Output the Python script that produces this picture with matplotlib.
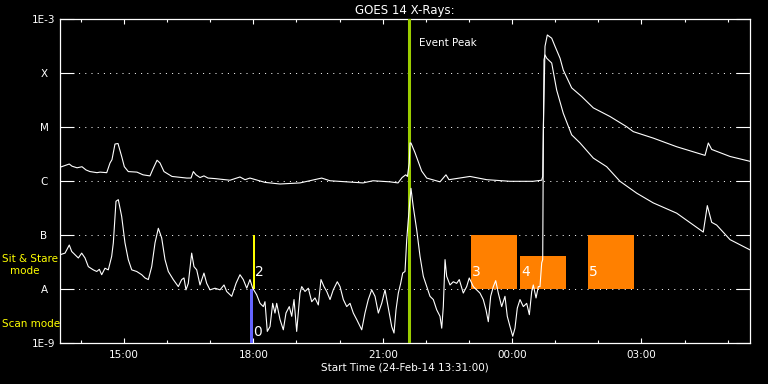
import matplotlib
matplotlib.use('Agg')
import matplotlib.pyplot as plt
import matplotlib.dates as mdates
from matplotlib.ticker import NullLocator, FixedLocator
from datetime import datetime, timedelta
import numpy as np

START = datetime(2014, 2, 24, 13, 31)
END = datetime(2014, 2, 25, 5, 31)

# GOES 14 long channel (1-8 A): minutes after start, log10 flux (W/m^2)
long_min = [
    0.0, 12.9, 16.7, 23.7, 30.6, 36.2, 41.7, 51.5, 55.7, 65.0,
    69.6, 72.3, 76.5, 80.7, 85.8, 89.5, 95.0, 107.1, 115.5, 125.2,
    129.4, 135.0, 139.1, 144.7, 155.8, 176.3, 182.3, 185.5, 189.2, 194.8,
    200.3, 205.9, 215.7, 236.5, 250.4, 257.4, 264.3, 285.2, 306.1, 333.9,
    364.1, 375.7, 398.9, 421.6, 435.5, 459.1, 470.3, 476.0, 481.0, 483.4,
    485.9, 487.0, 488.3, 493.9, 503.2, 510.2, 528.7, 537.0, 541.2, 570.4,
    593.7, 626.1, 658.1, 670.2, 671.6, 672.4, 673.4, 674.8, 678.0, 684.1,
    688.7, 695.7, 700.2, 711.9, 725.8, 742.0, 765.2, 788.5, 797.6, 825.4,
    858.0, 895.0, 897.4, 902.0, 906.7, 932.2, 960.0]
long_log = [
    -5.74, -5.68, -5.72, -5.75, -5.73, -5.79, -5.82, -5.84, -5.83, -5.84,
    -5.66, -5.60, -5.31, -5.30, -5.54, -5.73, -5.82, -5.83, -5.88, -5.90,
    -5.77, -5.61, -5.66, -5.82, -5.91, -5.94, -5.94, -5.82, -5.88, -5.93,
    -5.90, -5.94, -5.95, -5.98, -5.92, -5.97, -5.94, -6.02, -6.05, -6.03,
    -5.94, -5.99, -6.01, -6.03, -5.99, -6.01, -6.03, -5.93, -5.88, -5.91,
    -5.66, -5.29, -5.29, -5.47, -5.81, -5.94, -6.01, -5.88, -5.97, -5.91,
    -5.97, -6.00, -6.00, -5.98, -5.91, -5.05, -4.43, -3.50, -3.29, -3.35,
    -3.50, -3.72, -3.94, -4.27, -4.43, -4.64, -4.80, -4.99, -5.08, -5.20,
    -5.36, -5.51, -5.52, -5.29, -5.41, -5.54, -5.63]

# GOES 14 short channel (0.5-4 A): minutes after start, log10 flux (W/m^2)
short_min = [
    0.0, 7.0, 12.9, 16.3, 20.9, 25.5, 30.2, 34.8, 39.4, 46.3,
    51.1, 54.7, 58.0, 62.6, 67.2, 71.9, 74.2, 77.9, 81.1, 85.8,
    90.4, 95.0, 99.8, 106.7, 113.7, 118.3, 122.9, 127.6, 132.2, 136.8,
    141.5, 146.1, 150.7, 157.6, 164.6, 169.3, 172.5, 175.3, 178.5, 183.2,
    186.4, 190.2, 194.8, 200.3, 204.1, 208.7, 215.7, 222.6, 228.2, 231.9,
    238.9, 244.9, 250.4, 255.0, 259.8, 264.3, 268.1, 273.6, 278.3, 282.9,
    285.2, 288.4, 292.2, 295.9, 299.1, 301.5, 306.1, 310.7, 314.4, 319.0,
    322.4, 325.6, 329.3, 333.9, 336.3, 340.9, 345.5, 350.2, 354.8, 359.4,
    363.1, 367.3, 371.1, 375.7, 380.2, 385.8, 389.6, 394.2, 398.9, 403.5,
    408.1, 412.8, 419.8, 424.3, 428.9, 433.7, 438.3, 442.9, 447.6, 452.2,
    456.8, 461.5, 464.7, 467.5, 470.7, 474.0, 476.8, 480.0, 482.4, 484.6,
    488.3, 491.5, 496.3, 500.9, 505.5, 510.2, 514.8, 519.4, 524.1, 528.7,
    531.1, 533.3, 535.7, 538.0, 542.6, 547.2, 551.9, 555.5, 561.1, 565.8,
    569.4, 575.0, 579.7, 584.3, 588.9, 592.7, 595.9, 599.2, 602.9, 606.2,
    609.8, 614.5, 619.1, 622.3, 626.1, 629.9, 633.0, 636.2, 640.0, 644.6,
    649.3, 653.0, 656.3, 658.5, 662.3, 665.5, 667.8, 670.2, 671.6, 672.4,
    673.4, 674.8, 677.1, 684.1, 691.0, 700.2, 711.9, 723.5, 742.0, 760.6,
    779.1, 802.4, 825.4, 858.0, 895.0, 900.6, 906.7, 913.6, 932.2, 960.0]
short_log = [
    -7.36, -7.33, -7.18, -7.30, -7.36, -7.42, -7.33, -7.42, -7.58, -7.64,
    -7.67, -7.63, -7.73, -7.61, -7.64, -7.39, -7.14, -6.37, -6.34, -6.65,
    -7.14, -7.45, -7.64, -7.67, -7.73, -7.79, -7.82, -7.58, -7.14, -6.87,
    -7.05, -7.45, -7.67, -7.82, -7.95, -7.82, -7.79, -8.01, -7.89, -7.33,
    -7.58, -7.64, -7.92, -7.70, -7.89, -8.01, -7.98, -8.01, -7.92, -8.04,
    -8.13, -7.89, -7.73, -7.82, -7.98, -7.82, -7.98, -8.10, -8.26, -8.32,
    -8.23, -8.78, -8.69, -8.26, -8.44, -8.26, -8.56, -8.75, -8.44, -8.32,
    -8.50, -8.19, -8.78, -8.07, -7.95, -8.04, -7.98, -8.23, -8.16, -8.29,
    -7.82, -7.95, -8.04, -8.19, -8.01, -7.86, -7.95, -8.19, -8.32, -8.26,
    -8.44, -8.56, -8.75, -8.44, -8.19, -8.01, -8.13, -8.44, -8.26, -8.01,
    -8.35, -8.69, -8.81, -8.38, -8.07, -7.89, -7.70, -7.67, -7.08, -6.71,
    -6.13, -6.47, -6.90, -7.39, -7.76, -7.95, -8.13, -8.19, -8.38, -8.50,
    -8.72, -8.32, -7.45, -7.76, -7.92, -7.86, -7.89, -7.82, -8.07, -7.95,
    -7.79, -7.95, -8.01, -8.07, -8.19, -8.38, -8.60, -8.13, -7.95, -7.84,
    -8.07, -8.32, -8.13, -8.50, -8.69, -8.87, -8.72, -8.35, -8.19, -8.32,
    -8.26, -8.47, -8.04, -7.92, -8.16, -7.95, -7.95, -7.51, -7.45, -5.42,
    -3.75, -3.66, -3.72, -3.81, -4.31, -4.74, -5.14, -5.29, -5.57, -5.73,
    -6.00, -6.22, -6.40, -6.59, -6.94, -6.45, -6.76, -6.81, -7.08, -7.27]

# Y axis: decades and GOES class labels
y_decades = [1e-9, 1e-8, 1e-7, 1e-6, 1e-5, 1e-4, 1e-3]
y_labels = ['1E-9', 'A', 'B', 'C', 'M', 'X', '1E-3']
grid_levels = [1e-8, 1e-7, 1e-6, 1e-5, 1e-4]

# Observation windows (orange boxes)
obs_labels = ['3', '4', '5']
obs_start = ['2014-02-24 23:03', '2014-02-25 00:11', '2014-02-25 01:46']
obs_end = ['2014-02-25 00:07', '2014-02-25 01:15', '2014-02-25 02:50']
obs_top = [1e-7, 4.1e-8, 1e-7]
obs_bottom = 1e-8

# Mode markers near 18:00
mode_labels = ['0', '2']
mode_start = ['2014-02-24 17:55:30', '2014-02-24 17:59:00']
mode_width_min = [4.3, 3.3]
mode_low = [1e-9, 1e-8]
mode_high = [1e-8, 1e-7]
mode_colors = ['#6464ff', '#ffff00']
mode_label_y = [1.6e-9, 2.1e-8]

event_peak = '2014-02-24 21:36:30'

def ts(s):
    fmt = '%Y-%m-%d %H:%M:%S' if s.count(':') == 2 else '%Y-%m-%d %H:%M'
    return datetime.strptime(s, fmt)

fig = plt.figure(figsize=(7.68, 3.84), dpi=100, facecolor='black')
ax = fig.add_axes([60 / 768, 1 - 343.3 / 384, 690 / 768, 324 / 384])
ax.set_facecolor('black')

ax.set_yscale('log')
ax.set_ylim(1e-9, 1e-3)
ax.set_xlim(mdates.date2num(START), mdates.date2num(END))

# gridlines
for g in grid_levels:
    ax.axhline(g, color='white', lw=0.72, linestyle=(0, (1, 5.2)), zorder=1)

# orange observation boxes
for lab, s, e, top in zip(obs_labels, obs_start, obs_end, obs_top):
    x0 = mdates.date2num(ts(s))
    x1 = mdates.date2num(ts(e))
    ax.bar(x0, top - obs_bottom, width=x1 - x0, bottom=obs_bottom,
           align='edge', color='#ff8000', zorder=2, linewidth=0)
    ax.text(x0 + 1.2 / 1440, 2.1e-8, lab, color='white', fontsize=10,
            ha='left', va='center', zorder=5)

# mode markers
for lab, s, w, lo, hi, c, ly in zip(mode_labels, mode_start, mode_width_min,
                                     mode_low, mode_high, mode_colors, mode_label_y):
    x0 = mdates.date2num(ts(s))
    ax.bar(x0, hi - lo, width=w / 1440, bottom=lo, align='edge',
           color=c, zorder=3, linewidth=0)
    ax.text(x0 + (w - 0.5) / 1440, ly, lab, color='white', fontsize=10,
            ha='left', va='center', zorder=5)

# event peak line
ep = mdates.date2num(ts(event_peak))
ax.axvline(ep, color='#9bcd00', lw=2.2, zorder=4)
ax.text(ep + 14.5 / 1440, 3.7e-4, 'Event Peak', color='white', fontsize=7.5,
        ha='left', va='center', zorder=5)

# GOES curves
lt = [mdates.date2num(START + timedelta(minutes=m)) for m in long_min]
st = [mdates.date2num(START + timedelta(minutes=m)) for m in short_min]
ax.plot(lt, 10 ** np.array(long_log), color='white', lw=0.8, zorder=6)
ax.plot(st, 10 ** np.array(short_log), color='white', lw=0.8, zorder=6)

# axes styling
for sp in ax.spines.values():
    sp.set_color('white')
    sp.set_linewidth(0.9)

ax.xaxis.set_major_locator(mdates.HourLocator(byhour=[0, 3, 6, 9, 12, 15, 18, 21]))
ax.xaxis.set_minor_locator(mdates.HourLocator())
ax.xaxis.set_major_formatter(mdates.DateFormatter('%H:%M'))
ax.tick_params(axis='x', which='major', direction='in', length=3.8, width=0.8,
               colors='white', top=True, bottom=True, labelsize=7.5, pad=5)
ax.tick_params(axis='x', which='minor', direction='in', length=2.4, width=0.8,
               colors='white', top=True, bottom=True)

ax.yaxis.set_major_locator(FixedLocator(y_decades))
ax.set_yticklabels(y_labels)
ax.yaxis.set_minor_locator(NullLocator())
ax.tick_params(axis='y', which='major', direction='in', length=10, width=0.8,
               colors='white', left=True, right=True, labelsize=7.5, pad=11.5)
for t in ax.get_yticklabels():
    t.set_horizontalalignment('center')

ax.set_title('GOES 14 X-Rays:', color='white', fontsize=8.5, pad=4)
fig.text(405 / 768, 1 - 368 / 384, 'Start Time (24-Feb-14 13:31:00)',
         color='white', fontsize=7.5, ha='center', va='center')

fig.text(1.5 / 768, 1 - 258.5 / 384, 'Sit & Stare', color='#ffff00',
         fontsize=7.5, ha='left', va='center')
fig.text(24.5 / 768, 1 - 271 / 384, 'mode', color='#ffff00',
         fontsize=7.5, ha='center', va='center')
fig.text(1.5 / 768, 1 - 324 / 384, 'Scan mode', color='#ffff00',
         fontsize=7.5, ha='left', va='center')

fig.savefig('out.png', dpi=100, facecolor='black')
